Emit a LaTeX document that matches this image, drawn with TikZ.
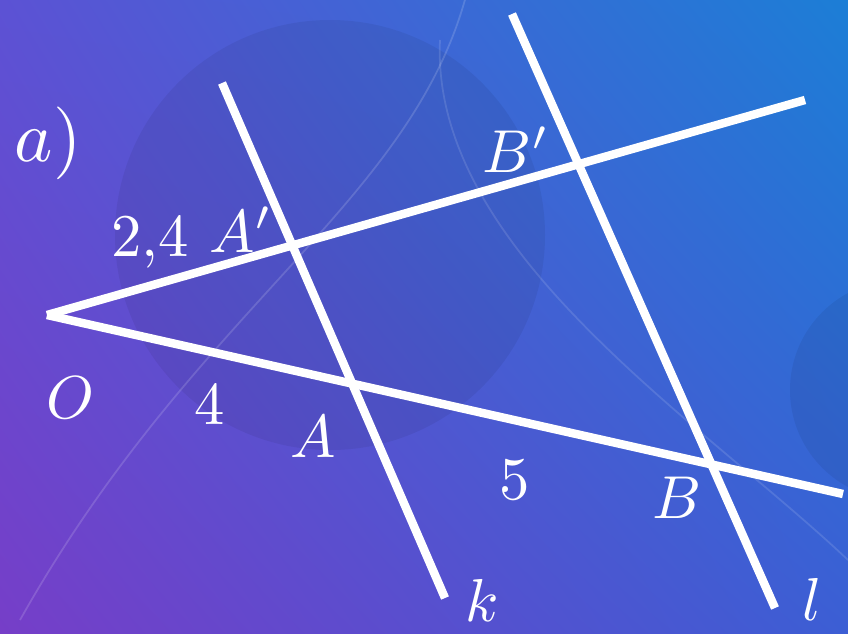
\documentclass[tikz,border=0pt]{standalone}
\usepackage{xcolor}
\usepackage{tikz}
\usetikzlibrary{calc, shadings}

\definecolor{fundoUL}{RGB}{92,82,212}
\definecolor{fundoUR}{RGB}{28,126,214}
\definecolor{fundoLL}{RGB}{118,62,200}
\definecolor{fundoLR}{RGB}{60,94,212}

\begin{document}
\begin{tikzpicture}[
            x=0.02cm, y=-0.02cm,
            linha/.style={draw=white, line width=4.8pt},
            rotulo/.style={text=white, inner sep=0pt, scale=3.45}
        ]
            % Fundo em degradê
            \useasboundingbox (0,0) rectangle (848,633);
            \shade[upper left=fundoUL, upper right=fundoUR,
                   lower left=fundoLL, lower right=fundoLR] (0,0) rectangle (848,633);
            \begin{scope}
                \clip (0,0) rectangle (848,633);
                \fill[black, opacity=0.06] (330,235) circle (215);
                \fill[black, opacity=0.06] (900,390) circle (110);
                \draw[white, opacity=0.15, line width=1pt] (20,620) .. controls (200,300) and (420,200) .. (470,-20);
                \draw[white, opacity=0.12, line width=1pt] (440,40) .. controls (430,250) and (700,420) .. (848,560);
            \end{scope}

            % --- Pontos das retas ---
            \coordinate (O) at (47,315);
            \coordinate (fim_sup) at (805,100);
            \coordinate (fim_inf) at (843,494);
            \coordinate (k_ini) at (222,83);
            \coordinate (k_fim) at (445,598);
            \coordinate (l_ini) at (512,14);
            \coordinate (l_fim) at (775,608);

            % --- Retas ---
            \draw[linha] (O) -- (fim_sup);
            \draw[linha] (O) -- (fim_inf);
            \draw[linha] (k_ini) -- (k_fim);
            \draw[linha] (l_ini) -- (l_fim);

            % --- Rótulos ---
            \node[rotulo, scale=1.2] (item) at (48,143) {$a)$};
            \node[rotulo] (med_a1) at (150,243) {$2{,}4$};
            \node[rotulo] (rot_a1) at (241,230) {$A'$};
            \node[rotulo] (rot_b1) at (516,150) {$B'$};
            \node[rotulo] (rot_o) at (70,398) {$O$};
            \node[rotulo] (med_a) at (210,405) {$4$};
            \node[rotulo] (rot_a) at (313,437) {$A$};
            \node[rotulo] (med_b) at (515,480) {$5$};
            \node[rotulo] (rot_b) at (677,498) {$B$};
            \node[rotulo] (rot_k) at (482,600) {$k$};
            \node[rotulo] (rot_l) at (812,599) {$l$};

        \end{tikzpicture}
\end{document}
